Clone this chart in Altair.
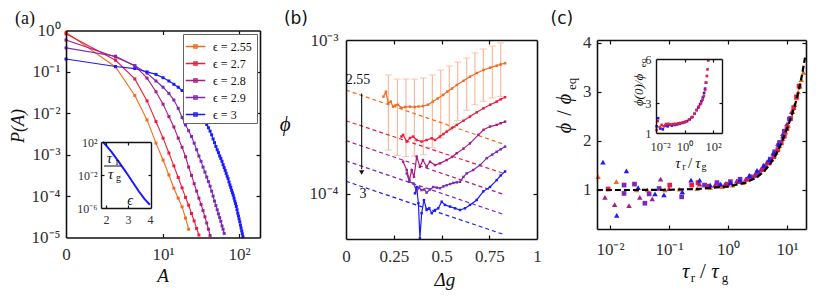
import altair as alt
import pandas as pd

W, H = 815, 284
SERIF = "Liberation Serif"
SANS = "DejaVu Sans"
INK = "#111111"
LAB = "#303030"

C_OR = "#f26b1d"
C_RD = "#ec1c3c"
C_MG = "#ad1a82"
C_PU = "#7b2ab5"
C_BL = "#1a1aff"
C_ERR = "#f7b596"
COLORS = [C_OR, C_RD, C_MG, C_PU, C_BL]
EPS = ["2.55", "2.7", "2.8", "2.9", "3"]
LEG = ["ϵ  = " + e for e in EPS]

# ---------------- panel (a): P(A), log10 values read at A = 0, 2, 4, ...
a_A = list(range(0, 114, 2))
a_logP_255 = [-0.04, -0.88, -1.57, -2.16, -2.72, -3.13, -3.49, -3.81, -4.05, -4.26, -4.53, -4.80]
a_logP_27 = [-0.08, -0.72, -1.17, -1.70, -2.20, -2.60, -2.96, -3.27, -3.55, -3.80, -4.03, -4.22,
             -4.42, -4.60, -4.78, -4.94]
a_logP_28 = [-0.23, -0.64, -0.85, -1.15, -1.48, -1.78, -2.08, -2.33, -2.60, -2.82, -3.05, -3.30,
             -3.50, -3.70, -3.88, -4.05, -4.20, -4.35, -4.50, -4.65, -4.80, -4.95]
a_logP_29 = [-0.42, -0.62, -0.85, -1.03, -1.22, -1.37, -1.52, -1.68, -1.88, -2.10, -2.28, -2.42,
             -2.56, -2.72, -2.88, -3.03, -3.16, -3.30, -3.42, -3.54, -3.65, -3.76, -3.88, -4.00,
             -4.12, -4.23, -4.33, -4.43, -4.52, -4.61, -4.72, -4.80, -4.90]
a_logP_3 = [-0.69, -0.87, -0.92, -1.00, -1.06, -1.14, -1.22, -1.30, -1.37, -1.45,
            -1.53, -1.62, -1.70, -1.79, -1.88, -1.96, -2.03, -2.11, -2.19, -2.27,
            -2.35, -2.43, -2.52, -2.62, -2.71, -2.80, -2.88, -2.95, -3.03, -3.09,
            -3.16, -3.24, -3.31, -3.38, -3.45, -3.52, -3.58, -3.66, -3.73, -3.79,
            -3.86, -3.92, -3.98, -4.05, -4.12, -4.18, -4.25, -4.33, -4.41, -4.48,
            -4.55, -4.62, -4.70, -4.77, -4.84, -4.91, -4.98]
# inset (a): tau_r/tau_g vs epsilon
ia_eps = [1.86, 2.0, 2.25, 2.5, 2.75, 3.0, 3.25, 3.5, 3.75, 4.0]
ia_log = [2.0, 1.6, 0.8, -0.1, -1.05, -2.0, -3.0, -4.0, -4.9, -5.6]

# ---------------- panel (b): phi (units of 1e-4) vs delta g
b_dg_or = [0.196, 0.209, 0.221, 0.234, 0.246, 0.259, 0.272, 0.29, 0.31, 0.335, 0.36, 0.38, 0.403, 0.43,
           0.455, 0.48, 0.508, 0.53, 0.555, 0.58, 0.615, 0.649, 0.685, 0.72, 0.755, 0.789, 0.81, 0.833]
b_phi_or = [4.29, 4.61, 3.89, 3.98, 3.69, 3.76, 3.80, 3.63, 3.67, 3.69, 3.67, 3.70, 3.72, 3.80,
            3.98, 4.17, 4.40, 4.62, 4.84, 5.11, 5.43, 5.78, 6.10, 6.38, 6.61, 6.81, 6.95, 7.06]
b_dg_rd = [0.29, 0.299, 0.318, 0.335, 0.351, 0.37, 0.396, 0.422, 0.449, 0.466, 0.492, 0.51, 0.527,
           0.555, 0.58, 0.615, 0.649, 0.685, 0.72, 0.755, 0.789, 0.81, 0.833]
b_phi_rd = [2.36, 2.42, 2.19, 2.31, 2.36, 2.24, 2.19, 2.24, 2.30, 2.24, 2.36, 2.45, 2.54,
            2.68, 2.81, 2.99, 3.18, 3.39, 3.60, 3.80, 3.98, 4.12, 4.25]
b_dg_mg = [0.299, 0.318, 0.332, 0.344, 0.356, 0.37, 0.387, 0.403, 0.422, 0.44, 0.466, 0.492, 0.527,
           0.555, 0.58, 0.615, 0.649, 0.693, 0.72, 0.754, 0.789, 0.81, 0.833]
b_phi_mg = [1.62, 1.43, 1.23, 1.43, 1.29, 1.75, 1.50, 1.66, 1.50, 1.62, 1.54, 1.58, 1.66,
            1.74, 1.84, 1.97, 2.13, 2.42, 2.61, 2.74, 2.81, 2.88, 2.95]
b_dg_pu = [0.318, 0.332, 0.353, 0.37, 0.383, 0.396, 0.41, 0.422, 0.44, 0.457, 0.475, 0.492, 0.51,
           0.527, 0.545, 0.562, 0.58, 0.597, 0.615, 0.632, 0.666, 0.702, 0.737, 0.765, 0.789, 0.81, 0.833]
b_phi_pu = [1.36, 1.20, 1.17, 1.04, 1.10, 1.06, 1.07, 1.02, 1.07, 1.11, 1.10, 1.09, 1.12,
            1.14, 1.16, 1.18, 1.19, 1.20, 1.29, 1.36, 1.43, 1.54, 1.71, 1.80, 1.88, 1.95, 2.03]
b_dg_bl = [0.361, 0.37, 0.379, 0.387, 0.396, 0.408, 0.422, 0.436, 0.449, 0.466, 0.483, 0.501, 0.518,
           0.545, 0.571, 0.597, 0.623, 0.649, 0.684, 0.719, 0.754, 0.789, 0.81, 0.833]
b_phi_bl = [1.01, 1.11, 0.871, 0.515, 0.750, 0.912, 0.787, 0.807, 0.750, 0.787, 0.807, 0.891, 0.849,
            0.828, 0.807, 0.787, 0.807, 0.849, 0.914, 1.04, 1.11, 1.23, 1.32, 1.40]
b_dash_dg = [0.0, 0.833]
b_dash_start = [4.73, 2.99, 2.22, 1.64, 1.21]
b_dash_end = [2.09, 1.35, 0.986, 0.731, 0.542]
b_err_dg = [0.222, 0.269, 0.314, 0.358, 0.405, 0.452, 0.496, 0.541, 0.585, 0.632, 0.675, 0.719, 0.766, 0.81]
b_err_hi = [5.93, 5.58, 5.58, 5.58, 5.66, 5.93, 6.38, 6.78, 7.19, 7.64, 8.24, 8.75, 9.14, 9.57]
b_err_lo = [1.93, 1.78, 1.75, 1.76, 1.80, 2.00, 2.30, 2.60, 3.00, 3.50, 3.80, 4.00, 4.20, 4.30]

# ---------------- panel (c): phi/phi_eq vs tau_r/tau_g
c_fit_tau = [0.006, 0.03, 0.1, 0.3, 1, 2, 3, 4, 5, 6.5, 8, 10, 12, 14, 16, 18, 20.2]
c_fit_y = [1.0, 1.0, 1.005, 1.02, 1.07, 1.15, 1.25, 1.37, 1.5, 1.72, 1.95, 2.25, 2.52, 2.78, 3.05, 3.35, 3.70]
c_tau_or = [0.0063, 0.0128, 0.028, 0.043, 0.085, 0.15, 0.3, 0.5, 0.8, 1.2, 1.8, 2.6, 3.5, 4.5, 5.5,
            6.5, 7.5, 8.5, 9.5, 10.5, 11.5, 12.5, 13.5, 14.5, 15.5, 16.5, 17.5, 19.0]
c_y_or = [1.27, 1.17, 1.0, 1.0, 1.0, 1.02, 1.03, 1.05, 1.07, 1.1, 1.15, 1.25, 1.38, 1.50, 1.62,
          1.76, 1.90, 2.05, 2.18, 2.32, 2.46, 2.60, 2.74, 2.88, 3.00, 3.12, 3.25, 3.40]
c_tau_rd = [0.0093, 0.103, 0.242, 0.31, 0.45, 0.7, 1.0, 1.5, 2.2, 3.0, 4.0, 5.0, 6.0, 7.0, 8.0, 9.0,
            10.0, 11.5, 13.0, 14.5, 16.0]
c_y_rd = [1.02, 1.10, 1.10, 1.15, 1.08, 1.10, 1.12, 1.17, 1.22, 1.30, 1.42, 1.55, 1.68, 1.82, 1.96,
          2.10, 2.25, 2.46, 2.68, 2.90, 3.12]
c_tau_mg = [0.0082, 0.012, 0.021, 0.032, 0.052, 0.072, 0.1, 0.33, 0.6, 0.9, 1.4, 2.0, 2.8, 3.6, 4.6,
            5.8, 7.0, 8.5, 10, 12]
c_y_mg = [0.85, 0.70, 0.68, 0.85, 0.82, 1.22, 1.03, 1.12, 1.10, 1.13, 1.18, 1.22, 1.30, 1.42, 1.58,
          1.75, 1.95, 2.15, 2.35, 2.60]
c_tau_pu = [0.0173, 0.0173, 0.026, 0.039, 0.046, 0.068, 0.164, 0.4, 0.65, 1.1, 1.6, 2.4, 3.2, 4.2,
            5.2, 6.2, 7.5, 9.0, 11.0]
c_y_pu = [1.10, 0.93, 1.12, 0.73, 0.92, 1.03, 0.86, 1.10, 1.15, 1.17, 1.22, 1.27, 1.35, 1.48,
          1.63, 1.78, 1.97, 2.20, 2.45]
c_tau_bl = [0.0076, 0.013, 0.019, 0.030, 0.058, 0.082, 0.168, 0.236, 0.33, 0.5, 0.75, 1.1, 1.6, 2.3,
            3.1, 4.0, 5.0, 6.0, 7.2, 8.5]
c_y_bl = [1.57, 0.48, 1.39, 1.05, 0.92, 0.90, 0.96, 1.20, 1.20, 1.10, 1.12, 1.15, 1.20, 1.30,
          1.40, 1.50, 1.62, 1.75, 1.92, 2.10]
# inset (c): phi(0)/phi_eq
ic_tau_rd = [0.011, 0.013, 0.018, 0.025, 0.035, 0.05, 0.07, 0.1, 0.15, 0.22, 0.35, 0.5, 0.8, 1.2, 2, 3,
             5, 7, 10, 14, 18, 22, 27, 32, 36, 40, 45]
ic_y_rd = [1.2, 1.8, 1.4, 1.55, 1.45, 1.6, 1.62, 1.58, 1.6, 1.62, 1.65, 1.68, 1.72, 1.78, 1.9, 2.05,
           2.3, 2.55, 2.8, 3.0, 3.25, 3.5, 3.9, 4.4, 4.85, 5.3, 5.9]
ic_tau_bl = [0.011, 0.014, 0.02, 0.03, 0.045, 0.065, 0.09, 0.13, 0.2, 0.3, 0.45, 0.7, 1.0, 1.5, 2.3,
             3.5, 5, 7, 9, 12, 15, 19, 23, 27, 31]
ic_y_bl = [1.45, 2.0, 1.3, 1.25, 1.5, 1.45, 1.55, 1.5, 1.55, 1.58, 1.62, 1.68, 1.73, 1.8, 1.92,
           2.08, 2.3, 2.55, 2.72, 2.95, 3.15, 3.4, 3.7, 4.0, 4.4]

# ---------------- tick labels
a_xt, a_xl = [0, 10, 100], ["0", "10¹", "10²"]
a_yt = [1e-5, 1e-4, 1e-3, 1e-2, 1e-1, 1]
a_yl = ["10⁻⁵", "10⁻⁴", "10⁻³", "10⁻²", "10⁻¹", "10⁰"]
ia_xt, ia_xl = [2, 3, 4], ["2", "3", "4"]
ia_yt, ia_yl = [1e-6, 1e-2, 1e2], ["10⁻⁶", "10⁻²", "10²"]
b_xt, b_xl = [0, 0.25, 0.5, 0.75, 1], ["0", "0.25", "0.5", "0.75", "1"]
b_yt, b_yl = [1e-4, 1e-3], ["10⁻⁴", "10⁻³"]
c_xt, c_xl = [0.01, 0.1, 1, 10], ["10⁻²", "10⁻¹", "10⁰", "10¹"]
c_yt, c_yl = [1, 2, 3, 4], ["1", "2", "3", "4"]
ic_xt, ic_xl = [0.01, 1, 100], ["10⁻²", "10⁰", "10²"]
ic_yt, ic_yl = [1, 3, 6], ["1", "3", "6"]


def S(kind, domain, rng, **kw):
    return alt.Scale(type=kind, domain=domain, range=rng, nice=False, **kw)


SA_X = S("symlog", [0, 186], [58, 252], constant=0.6, zero=False)
SA_Y = S("log", [1e-5, 1], [229.5, 22.5])
IA_X = S("linear", [1.77, 4.05], [93, 143], zero=False)
IA_Y = S("log", [1e-6, 1e2], [200, 134])
SB_X = S("linear", [0, 1], [338, 529], zero=False)
SB_Y = S("log", [5.1e-5, 1e-3], [231, 32])
SC_X = S("log", [0.00602, 21.0], [589, 798])
SC_Y = S("linear", [0.204, 4.06], [221, 32], zero=False)
IC_X = S("log", [0.01, 412], [648, 714])
IC_Y = S("linear", [1, 6], [125, 51], zero=False)


def expr(vals, labs):
    s = "''"
    for v, l in reversed(list(zip(vals, labs))):
        tol = abs(v) * 1e-6 + 1e-12
        s = f"abs(datum.value - {v!r}) <= {tol!r} ? '{l}' : ({s})"
    return s


def frame(sx, sy, box, xt, xl, yt, yl, xin, yin, fs=17, tl=4, xpad=8, ypad=6, dw=1.6,
          xflush=False, xflush_off=0):
    left, right, top, bottom = box
    d = pd.DataFrame({"x": [xt[0]], "y": [yt[0]]})
    base = alt.Chart(d).mark_point(opacity=0)
    com = dict(grid=False, title=None, zindex=2, domainColor=INK, tickColor=INK, domainWidth=dw,
               tickWidth=1.2, labelFont=SERIF, labelFontSize=fs, labelColor=LAB,
               labelOverlap=False)
    l1 = base.encode(
        x=alt.X("x:Q", scale=sx, axis=alt.Axis(orient="bottom", offset=bottom - H, values=xt,
                                                labelExpr=expr(xt, xl), ticks=False, labelFlush=xflush,
                                                labelFlushOffset=xflush_off,
                                                labelPadding=xpad, **com)),
        y=alt.Y("y:Q", scale=sy, axis=alt.Axis(orient="left", offset=-left, values=yt,
                                                labelExpr=expr(yt, yl), ticks=False, labelFlush=False,
                                                labelPadding=ypad, **com)))
    l2 = base.encode(
        x=alt.X("x:Q", scale=sx, axis=alt.Axis(orient="top", offset=-bottom, values=xin,
                                                labels=False, domain=False, tickSize=tl, **com)),
        y=alt.Y("y:Q", scale=sy, axis=alt.Axis(orient="right", offset=left - W, values=yin,
                                                labels=False, domain=False, tickSize=tl, **com)))
    l3 = base.encode(
        x=alt.X("x:Q", scale=sx, axis=alt.Axis(orient="bottom", offset=top - H, values=xin,
                                                labels=False, tickSize=tl, **com)),
        y=alt.Y("y:Q", scale=sy, axis=alt.Axis(orient="left", offset=-right, values=yin,
                                                labels=False, tickSize=tl, **com)))
    return [l1, l2, l3]


def xy(sx, sy, xf="x", yf="y"):
    return dict(x=alt.X(f"{xf}:Q", scale=sx, axis=None), y=alt.Y(f"{yf}:Q", scale=sy, axis=None))


def texts(sx, sy, xs, ys, ts, size, font=SERIF, style="normal", angle=0, color=INK):
    d = pd.DataFrame({"x": xs, "y": ys, "t": ts})
    return alt.Chart(d).mark_text(font=font, fontSize=size, fontStyle=style, angle=angle, color=color,
                                  align="center", baseline="middle").encode(
        text="t:N", **xy(sx, sy))


layers = []

# ---------------- (a)
rows = []
for lab, vals in zip(LEG, [a_logP_255, a_logP_27, a_logP_28, a_logP_29, a_logP_3]):
    for A, v in zip(a_A, vals):
        rows.append({"A": A, "P": 10 ** v, "s": lab})
df_a = pd.DataFrame(rows)
COL_A = alt.Scale(domain=LEG, range=COLORS)
LEG_SYM = "M-1,0H1M-0.17,-0.17H0.17V0.17H-0.17Z"
legend_a = alt.Legend(orient="none", legendX=175, legendY=26, title=None, symbolType=LEG_SYM,
                      symbolSize=380, symbolStrokeWidth=1.3, labelFont=SERIF, labelFontSize=12,
                      labelColor=INK, labelOffset=7, rowPadding=-1.3, padding=2,
                      strokeColor="#666666", fillColor="white", zindex=3)
layers.append(alt.Chart(df_a).mark_line(strokeWidth=1.1).encode(
    color=alt.Color("s:N", scale=COL_A, legend=legend_a), **xy(SA_X, SA_Y, "A", "P")))
layers.append(alt.Chart(df_a).mark_point(shape="square", filled=True, size=9, opacity=1).encode(
    color=alt.Color("s:N", scale=COL_A, legend=None), **xy(SA_X, SA_Y, "A", "P")))
layers += frame(SA_X, SA_Y, (58, 252, 22.5, 229.5), a_xt, a_xl, a_yt, a_yl, [10, 100],
                [1e-4, 1e-3, 1e-2, 1e-1], xpad=9, ypad=6)
layers.append(texts(SA_X, SA_Y, [-1.42], [1.90], ["(a)"], 18))
layers.append(texts(SA_X, SA_Y, [10], [1.17e-6], ["A"], 19, style="italic"))
layers.append(texts(SA_X, SA_Y, [-1.81], [4.93e-3], ["P(A)"], 18, style="italic", angle=270))

# inset (a)
df_ia = pd.DataFrame({"x": ia_eps, "y": [10 ** v for v in ia_log]})
layers.append(alt.Chart(df_ia).mark_line(color=C_BL, strokeWidth=2).encode(**xy(IA_X, IA_Y)))
layers += frame(IA_X, IA_Y, (93, 143, 134, 200), ia_xt, ia_xl, ia_yt, ia_yl, [2, 3], [1e-2],
                fs=12, tl=3, xpad=6, ypad=4, dw=1.4)
layers.append(texts(IA_X, IA_Y, [2.16, 2.21], [1.15, 0.0132], ["τ", "τ"], 15, style="italic"))
layers.append(texts(IA_X, IA_Y, [2.52, 2.57], [0.38, 0.0044], ["r", "g"], 10))
layers.append(texts(IA_X, IA_Y, [3.09], [7.1e-6], ["ϵ"], 14, style="italic"))
layers.append(alt.Chart(pd.DataFrame({"x": [1.91], "x2": [2.73], "y": [0.123]})).mark_rule(
    color=INK, strokeWidth=1).encode(x2="x2:Q", **xy(IA_X, IA_Y)))

# ---------------- (b)
COL_B = alt.Scale(domain=EPS, range=COLORS)
rows = []
for e, dgs, ph in zip(EPS, [b_dg_or, b_dg_rd, b_dg_mg, b_dg_pu, b_dg_bl],
                      [b_phi_or, b_phi_rd, b_phi_mg, b_phi_pu, b_phi_bl]):
    for g, p in zip(dgs, ph):
        rows.append({"x": g, "y": p * 1e-4, "s": e})
df_b = pd.DataFrame(rows)
rows = []
for e, p0, p1 in zip(EPS, b_dash_start, b_dash_end):
    rows.append({"x": b_dash_dg[0], "y": p0 * 1e-4, "s": e})
    rows.append({"x": b_dash_dg[1], "y": p1 * 1e-4, "s": e})
df_bd = pd.DataFrame(rows)
df_err = pd.DataFrame({"x": b_err_dg, "y": [v * 1e-4 for v in b_err_lo],
                       "y2": [v * 1e-4 for v in b_err_hi]})
df_cap = pd.DataFrame({"x": b_err_dg + b_err_dg, "y": [v * 1e-4 for v in b_err_lo + b_err_hi]})
layers.append(alt.Chart(df_err).mark_rule(color=C_ERR, strokeWidth=1.1).encode(
    y2="y2:Q", **xy(SB_X, SB_Y)))
layers.append(alt.Chart(df_cap).mark_tick(color=C_ERR, thickness=1.1, size=7,
                                          orient="horizontal").encode(**xy(SB_X, SB_Y)))
layers.append(alt.Chart(df_bd).mark_line(strokeWidth=1.2, strokeDash=[4, 3]).encode(
    color=alt.Color("s:N", scale=COL_B, legend=None), **xy(SB_X, SB_Y)))
layers.append(alt.Chart(df_b).mark_line(strokeWidth=1.2).encode(
    color=alt.Color("s:N", scale=COL_B, legend=None), **xy(SB_X, SB_Y)))
layers.append(alt.Chart(df_b).mark_point(shape="square", filled=True, size=6, opacity=1).encode(
    color=alt.Color("s:N", scale=COL_B, legend=None), **xy(SB_X, SB_Y)))
layers.append(alt.Chart(pd.DataFrame({"x": [0.082], "y": [4.5e-4], "y2": [1.45e-4]})).mark_rule(
    color=INK, strokeWidth=1.1).encode(y2="y2:Q", **xy(SB_X, SB_Y)))
layers.append(alt.Chart(pd.DataFrame({"x": [0.082], "y": [1.38e-4]})).mark_point(
    shape="triangle-down", filled=True, size=28, color=INK, opacity=1).encode(**xy(SB_X, SB_Y)))
layers += frame(SB_X, SB_Y, (338, 529, 32, 231), b_xt, b_xl, b_yt, b_yl, [0.25, 0.5, 0.75], [1e-4],
                xpad=9, ypad=8)
layers.append(texts(SB_X, SB_Y, [-0.262], [1.37e-3], ["(b)"], 17, font=SANS))
layers.append(texts(SB_X, SB_Y, [-0.319], [2.81e-4], ["ϕ"], 21, style="italic"))
layers.append(texts(SB_X, SB_Y, [0.518], [2.78e-5], ["Δg"], 19, style="italic"))
layers.append(texts(SB_X, SB_Y, [0.063, 0.089], [5.5e-4, 1.0e-4], ["2.55", "3"], 14))

# ---------------- (c)
for taus, ys, col, shp, sz in [(c_tau_or, c_y_or, C_OR, "triangle-up", 30),
                               (c_tau_rd, c_y_rd, C_RD, "square", 22),
                               (c_tau_mg, c_y_mg, C_MG, "triangle-up", 30),
                               (c_tau_pu, c_y_pu, C_PU, "square", 22),
                               (c_tau_bl, c_y_bl, C_BL, "triangle-up", 30)]:
    layers.append(alt.Chart(pd.DataFrame({"x": taus, "y": ys})).mark_point(
        shape=shp, filled=True, size=sz, color=col, opacity=1).encode(**xy(SC_X, SC_Y)))
layers.append(alt.Chart(pd.DataFrame({"x": c_fit_tau, "y": c_fit_y})).mark_line(
    color="black", strokeWidth=2.2, strokeDash=[6, 3]).encode(**xy(SC_X, SC_Y)))
layers += frame(SC_X, SC_Y, (589, 798, 32, 221), c_xt, c_xl, c_yt, c_yl, c_xt, c_yt,
                xpad=12, ypad=6)
layers.append(texts(SC_X, SC_Y, [0.00153], [4.49], ["(c)"], 17, font=SANS))
layers.append(texts(SC_X, SC_Y, [0.192, 0.602], [-0.673, -0.673], ["τ", "τ"], 21, style="italic"))
layers.append(texts(SC_X, SC_Y, [0.377], [-0.673], ["/"], 21))
layers.append(texts(SC_X, SC_Y, [0.255, 0.889], [-0.796, -0.796], ["r", "g"], 13))
layers.append(texts(SC_X, SC_Y, [0.00173, 0.00173], [2.265, 2.857], ["ϕ", "ϕ"], 20,
                    style="italic", angle=270))
layers.append(texts(SC_X, SC_Y, [0.00173], [2.571], ["/"], 20, angle=270))
layers.append(texts(SC_X, SC_Y, [0.00227], [3.163], ["eq"], 13, angle=270))

# inset (c)
for taus, ys, col in [(ic_tau_bl, ic_y_bl, C_BL), (ic_tau_rd, ic_y_rd, C_RD)]:
    layers.append(alt.Chart(pd.DataFrame({"x": taus, "y": ys})).mark_point(
        shape="square", filled=True, size=7, color=col, opacity=1).encode(**xy(IC_X, IC_Y)))
layers += frame(IC_X, IC_Y, (648, 714, 51, 125), ic_xt, ic_xl, ic_yt, ic_yl, [1, 100], [3],
                fs=12.5, tl=3, xpad=7, ypad=5, dw=1.4, xflush=True, xflush_off=6)
layers.append(texts(IC_X, IC_Y, [0.345, 8.65], [-1.05, -1.05], ["τ", "τ"], 15, style="italic"))
layers.append(texts(IC_X, IC_Y, [2.39], [-1.05], ["/"], 15))
layers.append(texts(IC_X, IC_Y, [0.908, 22.7], [-1.32, -1.32], ["r", "g"], 10))
layers.append(texts(IC_X, IC_Y, [6.5e-4], [3.905], ["ϕ(0)/ϕ"], 13, style="italic", angle=270))
layers.append(texts(IC_X, IC_Y, [1.23e-3], [5.73], ["eq"], 9, angle=270))

chart = alt.layer(*layers).properties(
    width=W, height=H, autosize=alt.AutoSizeParams(type="none"), padding=0, background="white"
).resolve_scale(x="independent", y="independent", color="independent").resolve_axis(
    x="independent", y="independent").resolve_legend(color="independent").configure_view(stroke=None)

chart.save("out.html", embed_options={"renderer": "svg", "actions": False})
